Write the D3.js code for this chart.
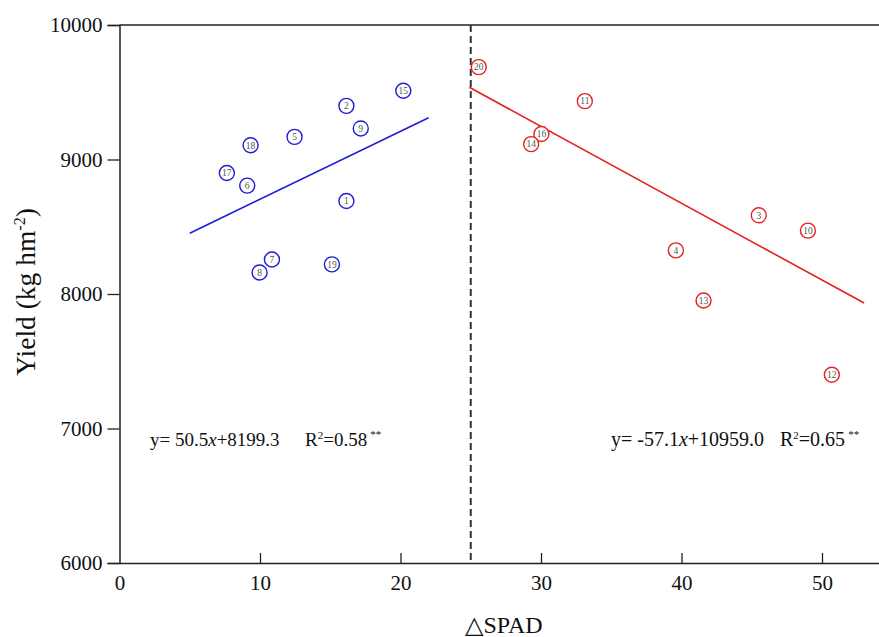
<!DOCTYPE html>
<html>
<head>
<meta charset="utf-8">
<script src="https://cdn.jsdelivr.net/npm/d3@7"></script>
<style>
  body { margin: 0; background: #fff; }
</style>
</head>
<body>
<script>
// plots with small SPAD drop (blue) and large SPAD drop (red)
var lowIds   = [15, 2, 9, 5, 18, 17, 6, 1, 7, 8, 19];
var lowSpad  = [20.2, 16.15, 17.17, 12.46, 9.33, 7.64, 9.09, 16.15, 10.85, 9.97, 15.12];
var lowYield = [9511, 9399, 9231, 9168, 9106, 8900, 8806, 8691, 8257, 8160, 8220];

var highIds   = [20, 11, 16, 14, 3, 10, 4, 13, 12];
var highSpad  = [25.57, 33.12, 30.03, 29.3, 45.5, 49.0, 39.6, 41.57, 50.7];
var highYield = [9687, 9434, 9190, 9114, 8585, 8471, 8324, 7952, 7400];

// regression lines: slope, intercept, x range
var lowFit  = {a: 50.5, b: 8199.3, from: 5, to: 22};
var highFit = {a: -57.1, b: 10959.0, from: 24.9, to: 53};

var xTicks = [0, 10, 20, 30, 40, 50];
var yTicks = [6000, 7000, 8000, 9000, 10000];
var splitAt = 25;

var serif = "'Liberation Serif', 'Times New Roman', serif";
var width = 879, height = 637;
var svg = d3.select("body").append("svg")
    .attr("width", width)
    .attr("height", height)
    .attr("font-family", serif);

var x = d3.scaleLinear().domain([0, 55]).range([119.5, 119.5 + 55 * 14.05]);
var y = d3.scaleLinear().domain([6000, 10000]).range([563, 25]);

var axisColor = "#222";

// y axis
var yAxis = svg.append("g")
    .attr("transform", "translate(" + x(0) + ",0)")
    .call(d3.axisLeft(y).tickValues(yTicks).tickSize(12).tickPadding(5).tickFormat(d3.format("d")));

// x axis, ticks pointing in
var xAxis = svg.append("g")
    .attr("transform", "translate(0," + y(6000) + ")")
    .call(d3.axisBottom(x).tickValues(xTicks).tickSizeInner(-10).tickSizeOuter(0).tickPadding(12));

[yAxis, xAxis].forEach(function(g) {
    g.attr("font-family", serif);
    g.select(".domain").attr("stroke", axisColor).attr("stroke-width", 1.5);
    g.selectAll(".tick line").attr("stroke", axisColor).attr("stroke-width", 1.3);
    g.selectAll(".tick text").attr("fill", "#111")
        .style("font-family", serif).style("font-size", "21px");
});
xAxis.selectAll(".tick").filter(function(d) { return d === 0; }).select("line").remove();

// top frame line
svg.append("line")
    .attr("x1", x(0)).attr("x2", width)
    .attr("y1", y(10000)).attr("y2", y(10000))
    .attr("stroke", axisColor).attr("stroke-width", 1.5);

// divider
svg.append("line")
    .attr("x1", x(splitAt)).attr("x2", x(splitAt))
    .attr("y1", y(10000)).attr("y2", y(6000))
    .attr("stroke", "#333").attr("stroke-width", 2)
    .attr("stroke-dasharray", "7,4");

function drawGroup(ids, xs, ys, fit, color) {
    var pts = ids.map(function(id, i) { return {id: id, x: xs[i], y: ys[i]}; });

    svg.append("line")
        .attr("x1", x(fit.from)).attr("y1", y(fit.a * fit.from + fit.b))
        .attr("x2", x(fit.to)).attr("y2", y(fit.a * fit.to + fit.b))
        .attr("stroke", color).attr("stroke-width", 1.6);

    var g = svg.append("g").selectAll("g")
        .data(pts).enter().append("g")
        .attr("transform", function(d) { return "translate(" + x(d.x) + "," + y(d.y) + ")"; });

    g.append("circle")
        .attr("r", 7.5)
        .attr("fill", "#fff")
        .attr("stroke", color)
        .attr("stroke-width", 1.4);

    g.append("text")
        .attr("text-anchor", "middle")
        .attr("dy", "0.35em")
        .attr("fill", "#555")
        .style("font-size", "9.5px")
        .text(function(d) { return d.id; });
}

drawGroup(lowIds, lowSpad, lowYield, lowFit, "#1d1dd6");
drawGroup(highIds, highSpad, highYield, highFit, "#e3211f");

// equations
function equation(xPos, yPos, eq, r2, size, rX) {
    var t = svg.append("text")
        .attr("y", yPos)
        .attr("fill", "#111")
        .style("font-size", size + "px");
    var parts = eq.split("x");
    t.append("tspan").attr("x", xPos).text(parts[0]);
    t.append("tspan").style("font-style", "italic").text("x");
    t.append("tspan").text(parts[1]);
    t.append("tspan").attr("x", rX).text("R");
    t.append("tspan").attr("dy", -7).style("font-size", "11px").text("2");
    t.append("tspan").attr("dy", 7).text("=" + r2);
    t.append("tspan").attr("dx", 3).attr("dy", -8).style("font-size", "11px").text("**");
}
equation(150, 446, "y= 50.5x+8199.3", "0.58", 19, 305);
equation(611, 446, "y= -57.1x+10959.0", "0.65", 20, 780);

// axis titles
svg.append("text")
    .attr("x", 504).attr("y", 633)
    .attr("text-anchor", "middle")
    .attr("fill", "#111")
    .style("font-size", "24px")
    .text("\u25B3SPAD");

var yl = svg.append("text")
    .attr("transform", "translate(35,292) rotate(-90)")
    .attr("text-anchor", "middle")
    .attr("fill", "#111")
    .style("font-size", "27.5px");
yl.append("tspan").text("Yield (kg hm");
yl.append("tspan").attr("dy", -10).style("font-size", "16px").text("-2");
yl.append("tspan").attr("dy", 10).text(")");
</script>
</body>
</html>
